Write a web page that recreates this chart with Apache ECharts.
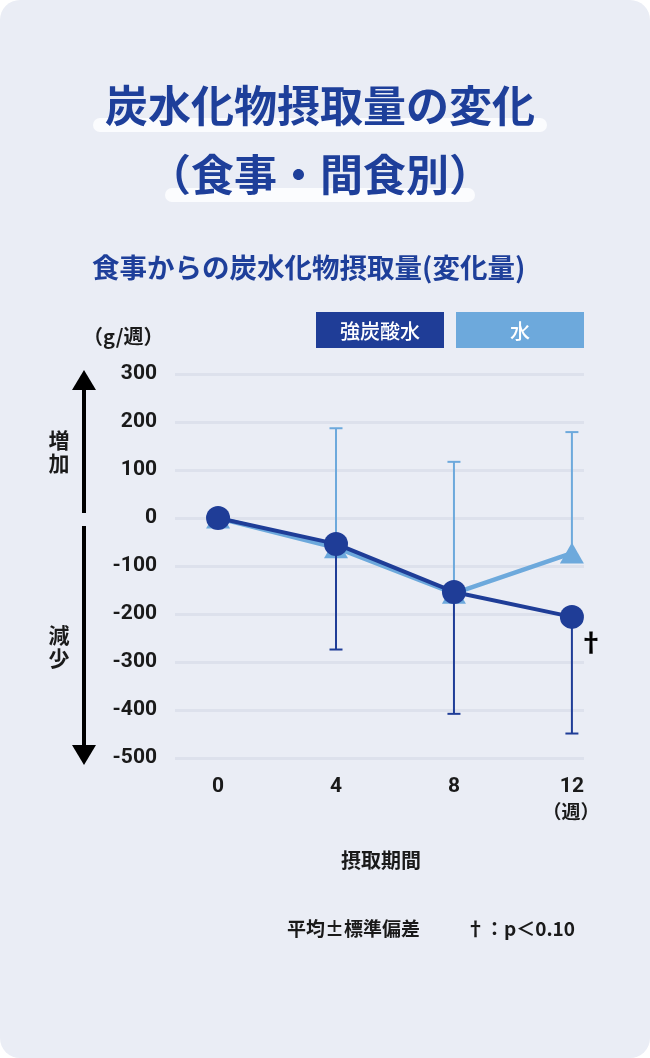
<!DOCTYPE html>
<html>
<head>
<meta charset="utf-8">
<script src="https://cdn.jsdelivr.net/npm/echarts@6/dist/echarts.min.js"></script>
<style>
  html, body { margin: 0; padding: 0; background: #ffffff; }
  #chart {
    width: 650px;
    height: 1058px;
    background: #eaedf5;
    border-radius: 20px;
    overflow: hidden;
  }
</style>
</head>
<body>
<div id="chart"></div>
<script>
// 週
const weeks = [0, 4, 8, 12]
const weekLabels = ['0', '4', '8', '12']
// 強炭酸水：平均・標準偏差（g/週）
const sodaMean = [0, -54, -154, -206]
const sodaSd = [0, 220, 254, 243]
// 水：平均・標準偏差（g/週）
const waterMean = [0, -62, -157, -73]
const waterSd = [0, 249, 274, 252]
const yTicks = [-500, -400, -300, -200, -100, 0, 100, 200, 300]

const DARK = '#1f3d97'
const LIGHT = '#6da9dc'
const JP = '"Noto Sans CJK JP", "Noto Sans", sans-serif'

const chart = echarts.init(document.getElementById('chart'), null, { renderer: 'canvas' })

// エラーバー（片側のみ）
function errorBar(color) {
  return function (params, api) {
    const x = api.value(0)
    const end = api.value(1)
    const mean = api.value(2)
    if (end === mean) return null
    const p0 = api.coord([x, mean])
    const p1 = api.coord([x, end])
    const cap = 6.5
    const style = { stroke: color, lineWidth: 2 }
    return {
      type: 'group',
      children: [
        { type: 'line', shape: { x1: p0[0], y1: p0[1], x2: p1[0], y2: p1[1] }, style },
        { type: 'line', shape: { x1: p1[0] - cap, y1: p1[1], x2: p1[0] + cap, y2: p1[1] }, style }
      ]
    }
  }
}

const sodaErr = weeks.map((w, i) => [w, sodaMean[i] - sodaSd[i], sodaMean[i]])
const waterErr = weeks.map((w, i) => [w, waterMean[i] + waterSd[i], waterMean[i]])

const option = {
  animation: false,
  grid: { left: 175, right: 66, top: 374, bottom: 300 },
  xAxis: {
    type: 'value',
    min: -1.46,
    max: 12.41,
    axisLine: { show: false },
    axisTick: { show: false },
    splitLine: { show: false },
    axisLabel: {
      customValues: weeks,
      formatter: v => weekLabels[weeks.indexOf(v)],
      color: '#1a1a1a',
      fontSize: 21,
      fontWeight: 'bold',
      fontFamily: 'Roboto, "Noto Sans", sans-serif',
      margin: 18
    }
  },
  yAxis: {
    type: 'value',
    min: -500,
    max: 300,
    interval: 100,
    axisLine: { show: false },
    axisTick: { show: false },
    splitLine: { lineStyle: { color: '#dde1ec', width: 3 } },
    axisLabel: {
      color: '#1a1a1a',
      fontSize: 21,
      fontWeight: 'bold',
      fontFamily: 'Roboto, "Noto Sans", sans-serif',
      margin: 18,
      formatter: v => yTicks.includes(v) ? String(v) : ''
    }
  },
  series: [
    {
      name: '水',
      type: 'line',
      data: weeks.map((w, i) => [w, waterMean[i]]),
      symbol: 'triangle',
      symbolSize: [24, 21],
      lineStyle: { color: LIGHT, width: 4.5 },
      itemStyle: { color: LIGHT },
      z: 2
    },
    {
      name: '水SD',
      type: 'custom',
      data: waterErr,
      renderItem: errorBar(LIGHT),
      z: 3
    },
    {
      name: '強炭酸水SD',
      type: 'custom',
      data: sodaErr,
      renderItem: errorBar(DARK),
      z: 3
    },
    {
      name: '強炭酸水',
      type: 'line',
      data: weeks.map((w, i) => [w, sodaMean[i]]),
      symbol: 'circle',
      symbolSize: 24,
      lineStyle: { color: DARK, width: 4 },
      itemStyle: { color: DARK },
      z: 4
    }
  ],
  graphic: [
    // タイトル下のハイライト
    { type: 'rect', shape: { x: 93, y: 118, width: 454, height: 14, r: 7 }, style: { fill: '#fbfcfe' }, z: 1 },
    { type: 'rect', shape: { x: 165, y: 188, width: 310, height: 14, r: 7 }, style: { fill: '#fbfcfe' }, z: 1 },
    { type: 'text', x: 320, y: 106, z: 2, style: { text: '炭水化物摂取量の変化', fill: '#1e3f9a', font: `bold 43px ${JP}`, textAlign: 'center', textVerticalAlign: 'middle' } },
    { type: 'text', x: 320, y: 175, z: 2, style: { text: '（食事・間食別）', fill: '#1e3f9a', font: `bold 43px ${JP}`, textAlign: 'center', textVerticalAlign: 'middle' } },
    { type: 'text', x: 92, y: 268, style: { text: '食事からの炭水化物摂取量(変化量)', fill: '#1e3f9a', font: `bold 27.5px ${JP}`, textAlign: 'left', textVerticalAlign: 'middle' } },
    // 凡例
    { type: 'rect', shape: { x: 316, y: 312, width: 128, height: 36 }, style: { fill: DARK } },
    { type: 'text', x: 380, y: 331, style: { text: '強炭酸水', fill: '#ffffff', font: `500 20px ${JP}`, textAlign: 'center', textVerticalAlign: 'middle' } },
    { type: 'rect', shape: { x: 456, y: 312, width: 128, height: 36 }, style: { fill: LIGHT } },
    { type: 'text', x: 520, y: 331, style: { text: '水', fill: '#ffffff', font: `500 20px ${JP}`, textAlign: 'center', textVerticalAlign: 'middle' } },
    // 単位
    { type: 'text', x: 83, y: 336, style: { text: '（g/週）', fill: '#1a1a1a', font: `bold 20px ${JP}`, textAlign: 'left', textVerticalAlign: 'middle' } },
    // 増加・減少の矢印
    { type: 'line', shape: { x1: 84, y1: 386, x2: 84, y2: 513 }, style: { stroke: '#000', lineWidth: 4 } },
    { type: 'polygon', shape: { points: [[84, 370], [72, 390], [96, 390]] }, style: { fill: '#000' } },
    { type: 'line', shape: { x1: 84, y1: 526, x2: 84, y2: 748 }, style: { stroke: '#000', lineWidth: 4 } },
    { type: 'polygon', shape: { points: [[72, 745], [96, 745], [84, 765]] }, style: { fill: '#000' } },
    { type: 'text', x: 59, y: 452, style: { text: '増\n加', fill: '#1a1a1a', font: `bold 21px ${JP}`, lineHeight: 23, textAlign: 'center', textVerticalAlign: 'middle' } },
    { type: 'text', x: 59, y: 647, style: { text: '減\n少', fill: '#1a1a1a', font: `bold 21px ${JP}`, lineHeight: 23, textAlign: 'center', textVerticalAlign: 'middle' } },
    // 有意差記号
    { type: 'text', x: 591, y: 642, z: 10, style: { text: '†', fill: '#000', font: `bold 26px ${JP}`, textAlign: 'center', textVerticalAlign: 'middle' } },
    // 軸の単位・タイトル
    { type: 'text', x: 571, y: 812, style: { text: '（週）', fill: '#1a1a1a', font: `bold 19px ${JP}`, textAlign: 'center', textVerticalAlign: 'middle' } },
    { type: 'text', x: 381, y: 860, style: { text: '摂取期間', fill: '#1a1a1a', font: `bold 20px ${JP}`, textAlign: 'center', textVerticalAlign: 'middle' } },
    // 注記
    { type: 'text', x: 287, y: 929, style: { text: '平均±標準偏差', fill: '#1a1a1a', font: `bold 19px ${JP}`, textAlign: 'left', textVerticalAlign: 'middle' } },
    { type: 'text', x: 466, y: 929, style: { text: '†：p＜0.10', fill: '#1a1a1a', font: `bold 19px ${JP}`, textAlign: 'left', textVerticalAlign: 'middle' } }
  ]
}

chart.setOption(option)
</script>
</body>
</html>
